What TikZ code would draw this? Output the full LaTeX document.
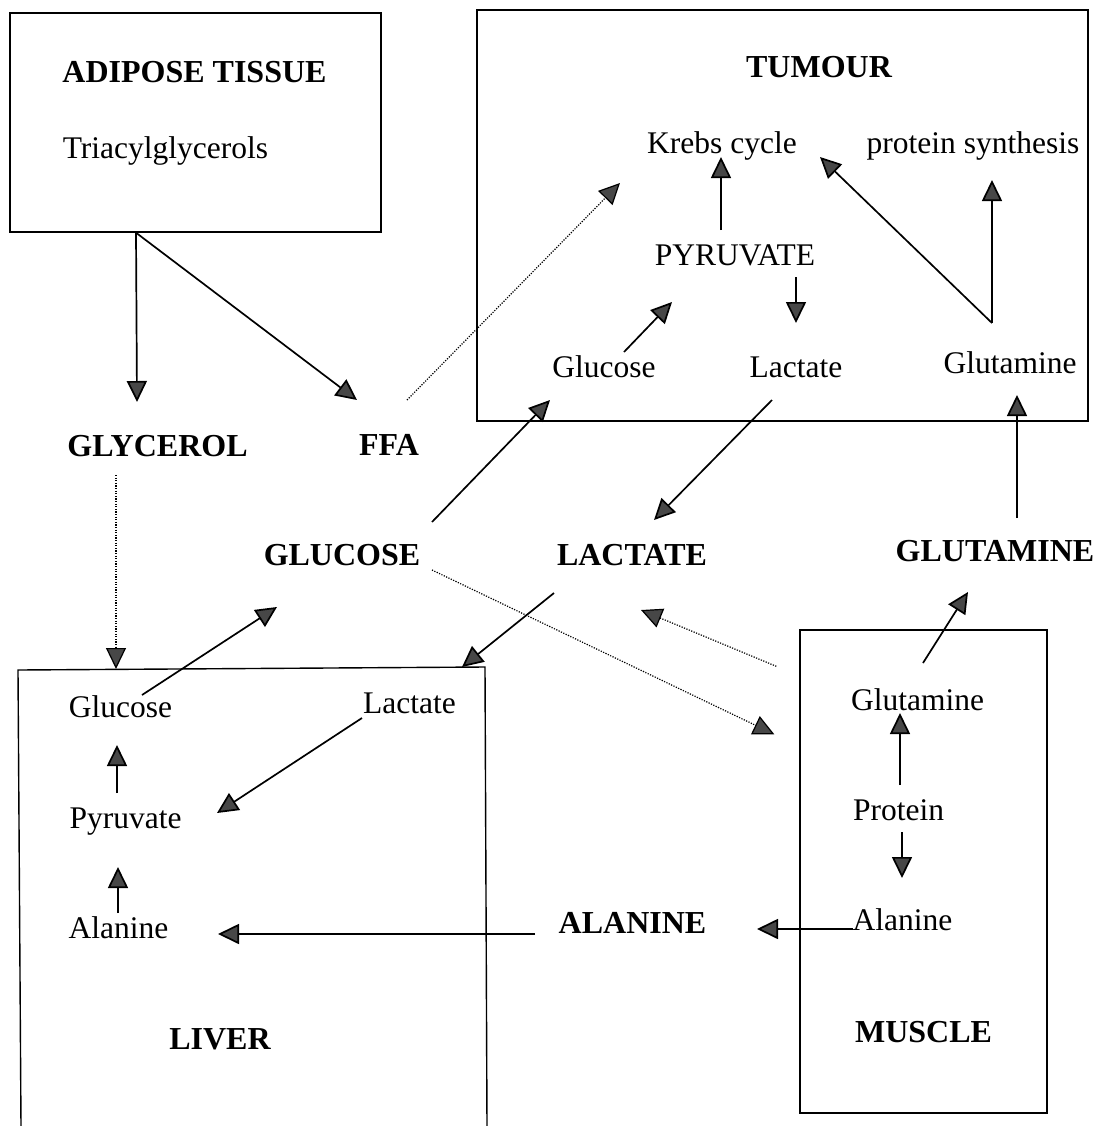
\documentclass[tikz,border=0pt]{standalone}
\usepackage{fontspec}
\setmainfont{Liberation Serif}
\usetikzlibrary{arrows.meta}
\begin{document}
\begin{tikzpicture}[x=0.5pt,y=-0.5pt,
  lbl/.style={inner sep=0pt, anchor=base, font=\fontsize{15.75pt}{18pt}\selectfont},
  big/.style={inner sep=0pt, anchor=base, font=\fontsize{16pt}{18pt}\selectfont\bfseries},
  organ/.style={draw, line width=0.7pt, inner sep=0pt},
  tip/.style={-{Triangle[length=10.5pt,width=10pt,fill=black!72]}},
  arr/.style={tip, line width=0.85pt},
  dotarr/.style={tip, line width=0.6pt, dash pattern=on 0.6pt off 0.7pt}
]
\useasboundingbox (0,0) rectangle (1098,1126);

% organ boxes
\node[organ, minimum width=185.5pt, minimum height=109.5pt] (adipose) at (195.5,122.5) {};
\node[organ, minimum width=305.5pt, minimum height=205.5pt] (tumour) at (782.5,215.5) {};
\node[organ, minimum width=123.5pt, minimum height=241.5pt] (muscle) at (923.5,871.5) {};
\coordinate (lvBL) at (21,1126);
\coordinate (lvTL) at (18,670);
\coordinate (lvTR) at (485,667);
\coordinate (lvBR) at (487,1126);
\draw[line width=0.7pt] (lvBL) -- (lvTL) -- (lvTR) -- (lvBR);
\coordinate (lvG) at (116,669);
\coordinate (lvL) at (462,667);

% adipose tissue
\node[big] (adtitle) at (194.5,82) {ADIPOSE TISSUE};
\node[lbl] (tag) at (165.5,158) {Triacylglycerols};

% tumour
\node[big] (tumtitle) at (819,77) {TUMOUR};
\node[lbl] (krebs) at (722,153) {Krebs cycle};
\node[lbl] (psyn) at (973,153) {protein synthesis};
\node[lbl] (tpyr) at (735,265) {PYRUVATE};
\node[lbl] (tglc) at (604,377) {Glucose};
\node[lbl] (tlac) at (796,377) {Lactate};
\node[lbl] (tgln) at (1010,373) {Glutamine};

% circulation
\node[big] (glycerol) at (157.5,456) {GLYCEROL};
\node[big] (ffa) at (389,455) {FFA};
\node[big] (glucose) at (342,565) {GLUCOSE};
\node[big] (lactate) at (632,565) {LACTATE};
\node[big] (glutamine) at (995,561) {GLUTAMINE};
\node[big] (alanine) at (632.5,933) {ALANINE};

% liver
\node[lbl] (lglc) at (120.5,717) {Glucose};
\node[lbl] (llac) at (409.5,713) {Lactate};
\node[lbl] (lpyr) at (125.5,828) {Pyruvate};
\node[lbl] (lala) at (118.5,938) {Alanine};
\node[big] (livtitle) at (220,1049) {LIVER};

% muscle
\node[lbl] (mgln) at (917.5,710) {Glutamine};
\node[lbl] (mprot) at (898.5,820) {Protein};
\node[lbl] (mala) at (902.5,930) {Alanine};
\node[big] (mustitle) at (923.5,1042) {MUSCLE};

% connectors
\draw[arr] ([shift={(-59.5,0)}]adipose.south) -- ([shift={(-20.5,-54)}]glycerol.base);
\draw[arr] ([shift={(-59.5,0)}]adipose.south) -- ([shift={(-32,-55)}]ffa.base);
\draw[dotarr] ([shift={(18,-55)}]ffa.base) -- ([shift={(-102,30)}]krebs.base);
\draw[dotarr] ([shift={(-41.5,19)}]glycerol.base) -- (lvG);

\draw[arr] ([shift={(20,-25)}]tglc.base) -- ([shift={(-63,37)}]tpyr.base);
\draw[arr] ([shift={(-14,-35)}]tpyr.base) -- ([shift={(-1,4)}]krebs.base);
\draw[arr] ([shift={(61,12)}]tpyr.base) -- ([shift={(0,-54)}]tlac.base);
\draw[arr] ([shift={(-18,-50)}]tgln.base) -- ([shift={(98,4)}]krebs.base);
\draw[arr] ([shift={(-18,-50)}]tgln.base) -- ([shift={(19,27)}]psyn.base);

\draw[arr] ([shift={(90,-43)}]glucose.base) -- ([shift={(-54,23)}]tglc.base);
\draw[arr] ([shift={(-24,23)}]tlac.base) -- ([shift={(22,-45)}]lactate.base);
\draw[arr] ([shift={(22,-43)}]glutamine.base) -- ([shift={(7,22)}]tgln.base);
\draw[arr] ([shift={(-78,28)}]lactate.base) -- (lvL);
\draw[dotarr] ([shift={(90,5)}]glucose.base) -- ([shift={(-25,105)}]muscle.north west);
\draw[dotarr] ([shift={(-23,37)}]muscle.north west) -- ([shift={(9,45)}]lactate.base);
\draw[arr] ([shift={(5.5,-47)}]mgln.base) -- ([shift={(-27,31)}]glutamine.base);

\draw[arr] ([shift={(21.5,-22)}]lglc.base) -- ([shift={(-65,42)}]glucose.base);
\draw[arr] ([shift={(-47.5,5)}]llac.base) -- ([shift={(91.5,-15)}]lpyr.base);
\draw[arr] ([shift={(-8.5,-35)}]lpyr.base) -- ([shift={(-3.5,28)}]lglc.base);
\draw[arr] ([shift={(-0.5,-25)}]lala.base) -- ([shift={(-0.5,-71)}]lala.base);
\draw[arr] ([shift={(-97.5,1)}]alanine.base) -- ([shift={(99.5,-4)}]lala.base);
\draw[arr] ([shift={(-49.5,-1)}]mala.base) -- ([shift={(124.5,-4)}]alanine.base);
\draw[arr] ([shift={(1.5,-35)}]mprot.base) -- ([shift={(-17.5,3)}]mgln.base);
\draw[arr] ([shift={(3.5,12)}]mprot.base) -- ([shift={(-0.5,-52)}]mala.base);
\end{tikzpicture}
\end{document}
